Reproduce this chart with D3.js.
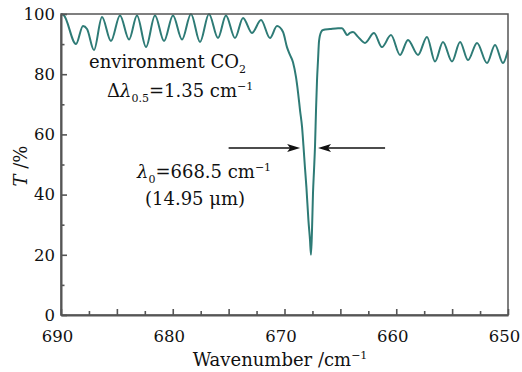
<!DOCTYPE html>
<html>
<head>
<meta charset="utf-8">
<script src="https://cdn.jsdelivr.net/npm/d3@7"></script>
<style>
  html, body { margin: 0; padding: 0; background: #ffffff; }
  svg { display: block; }
  text { font-family: "DejaVu Serif", serif; fill: #111; }
</style>
</head>
<body>
<svg id="chart" width="522" height="372"></svg>
<script>
// ---------------- data ----------------
const wavenumber = [
  690.00, 689.73, 688.66, 688.03, 687.67, 687.05, 686.33, 685.53, 684.72, 683.91,
  683.20, 682.39, 681.59, 680.78, 679.98, 679.17, 678.37, 677.56, 676.76, 675.95,
  675.24, 674.43, 673.71, 672.91, 672.10, 671.30, 670.67, 670.13, 669.78, 669.51,
  669.24, 668.97, 668.79, 668.61, 668.43, 668.30, 668.17, 668.04, 667.86, 667.72,
  667.63, 667.54, 667.45, 667.36, 667.27, 667.18, 667.09, 667.00, 666.91, 666.73,
  666.55, 665.93, 665.21, 664.85, 664.59, 664.41, 664.14, 663.87, 663.42, 662.80,
  661.99, 661.28, 660.47, 659.66, 658.95, 658.05, 657.25, 656.53, 655.82, 655.01,
  654.29, 653.58, 652.77, 651.88, 651.16, 650.45, 650.00
];
const transmittance = [
  100.0, 99.5, 90.0, 96.0, 95.0, 88.0, 99.0, 91.0, 99.5, 91.5,
  99.5, 89.0, 99.5, 91.0, 99.5, 91.5, 100.0, 90.7, 100.0, 92.0,
  99.5, 92.0, 98.7, 93.7, 98.0, 92.0, 96.0, 94.0, 89.0, 86.4,
  84.0, 79.0, 74.0, 68.0, 62.5, 56.0, 49.0, 42.5, 31.5, 25.0,
  20.0, 28.0, 40.5, 48.0, 56.0, 68.0, 78.0, 84.7, 91.0, 94.0,
  94.7, 95.0, 95.3, 95.3, 94.0, 93.0, 93.7, 94.0, 92.4, 90.4,
  93.7, 89.0, 93.0, 86.4, 91.4, 86.4, 92.4, 84.2, 90.7, 84.2,
  90.7, 84.7, 90.4, 83.7, 89.7, 83.7, 88.0
];
const xDomain = [690, 650];
const yDomain = [0, 100];
const xTickValues = d3.range(650, 690.01, 2.5);
const xLabelValues = [690, 680, 670, 660, 650];
const yTickValues = d3.range(0, 100.01, 10);
const yLabelValues = [0, 20, 40, 60, 80, 100];
// half-width arrows: [from wavenumber, to wavenumber], at transmittance level
const arrowLevel = 55.5;
const arrowSegments = [[675.0, 668.6], [661.0, 667.0]];

// ---------------- layout ----------------
const svg = d3.select("#chart");
const L = 61, R = 508, T = 14, B = 315;
const x = d3.scaleLinear().domain(xDomain).range([L, R]);
const y = d3.scaleLinear().domain(yDomain).range([B, T]);
const axisColor = "#555";

svg.append("defs").append("clipPath").attr("id", "clip")
  .append("rect").attr("x", L).attr("y", T - 1).attr("width", R - L).attr("height", B - T + 1);

// curve
const pts = wavenumber.map((w, i) => [w, transmittance[i]]);
const line = d3.line().x(d => x(d[0])).y(d => y(d[1])).curve(d3.curveMonotoneX);
svg.append("path").datum(pts)
  .attr("clip-path", "url(#clip)")
  .attr("fill", "none").attr("stroke", "#2e7b76").attr("stroke-width", 2)
  .attr("stroke-linejoin", "round")
  .attr("d", line);

// frame
svg.append("rect").attr("x", L).attr("y", T).attr("width", R - L).attr("height", B - T)
  .attr("fill", "none").attr("stroke", axisColor).attr("stroke-width", 1.5);

// bottom axis
const xAxis = d3.axisBottom(x).tickValues(xTickValues).tickSizeInner(-6).tickSizeOuter(0)
  .tickPadding(15)
  .tickFormat(d => xLabelValues.includes(d) ? d3.format("d")(d) : "");
const gx = svg.append("g").attr("transform", `translate(0,${B})`).call(xAxis);
gx.select(".domain").attr("stroke", axisColor).attr("stroke-width", 2);
gx.selectAll(".tick line").attr("stroke", axisColor).attr("stroke-width", 1.6)
  .attr("y2", d => (d % 5 === 0) ? -6 : -4);
gx.selectAll(".tick text").attr("font-family", "DejaVu Serif").attr("font-size", 16.5)
  .attr("fill", "#111").attr("dx", -4);

// left axis
const yAxis = d3.axisLeft(y).tickValues(yTickValues).tickSizeInner(-6).tickSizeOuter(0)
  .tickPadding(6)
  .tickFormat(d => yLabelValues.includes(d) ? d3.format("d")(d) : "");
const gy = svg.append("g").attr("transform", `translate(${L},0)`).call(yAxis);
gy.select(".domain").attr("stroke", axisColor).attr("stroke-width", 2);
gy.selectAll(".tick line").attr("stroke", axisColor).attr("stroke-width", 1.6)
  .attr("x2", d => (d % 20 === 0) ? 6 : 3.5);
gy.selectAll(".tick text").attr("font-family", "DejaVu Serif").attr("font-size", 16.5)
  .attr("fill", "#111");

// axis titles
const xt = svg.append("text").attr("x", 280).attr("y", 366).attr("text-anchor", "middle")
  .attr("font-size", 18);
xt.append("tspan").text("Wavenumber /cm");
xt.append("tspan").attr("font-size", 11).attr("dy", -7).text("−1");

const yt = svg.append("text").attr("transform", "translate(27,166) rotate(-90)")
  .attr("text-anchor", "middle").attr("font-size", 18);
yt.append("tspan").attr("font-style", "italic").text("T");
yt.append("tspan").text(" /%");

// annotations
const a1 = svg.append("text").attr("x", 89).attr("y", 68).attr("font-size", 18);
a1.append("tspan").text("environment CO");
a1.append("tspan").attr("font-size", 11).attr("dy", 5).text("2");

const a2 = svg.append("text").attr("x", 107).attr("y", 97).attr("font-size", 18);
a2.append("tspan").text("Δ");
a2.append("tspan").attr("font-style", "italic").text("λ");
a2.append("tspan").attr("font-size", 11).attr("dy", 5).text("0.5");
a2.append("tspan").attr("dy", -5).text("=1.35 cm");
a2.append("tspan").attr("font-size", 11).attr("dy", -7).text("−1");

const a3 = svg.append("text").attr("x", 137).attr("y", 178).attr("font-size", 18);
a3.append("tspan").attr("font-style", "italic").text("λ");
a3.append("tspan").attr("font-size", 11).attr("dy", 5).text("0");
a3.append("tspan").attr("dy", -5).text("=668.5 cm");
a3.append("tspan").attr("font-size", 11).attr("dy", -7).text("−1");

svg.append("text").attr("x", 145).attr("y", 205).attr("font-size", 18).text("(14.95 μm)");

// arrows
arrowSegments.forEach(([from, to]) => {
  const x0 = x(from), x1 = x(to), yy = y(arrowLevel);
  const dir = Math.sign(x1 - x0);
  svg.append("line").attr("x1", x0).attr("x2", x1 - dir * 8).attr("y1", yy).attr("y2", yy)
    .attr("stroke", "#111").attr("stroke-width", 1.6);
  const len = 13, hw = 4, notch = 3;
  const p = [
    [x1, yy],
    [x1 - dir * len, yy - hw],
    [x1 - dir * (len - notch), yy],
    [x1 - dir * len, yy + hw]
  ];
  svg.append("path").attr("d", "M" + p.map(q => q.join(",")).join("L") + "Z").attr("fill", "#111");
});
</script>
</body>
</html>
